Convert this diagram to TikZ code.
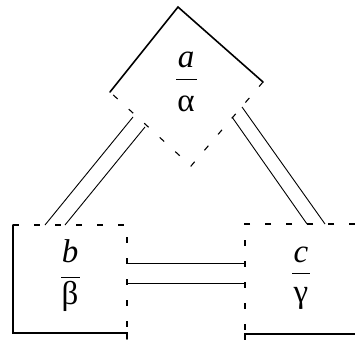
\documentclass[tikz,border=0pt]{standalone}
\usepackage{fontspec}
\setmainfont{Liberation Serif}
\begin{document}
\begin{tikzpicture}[x=1pt,y=-1pt,
  solidln/.style={line width=1.6pt, line cap=round, line join=miter},
  dashln/.style={line width=1.1pt, dash pattern=on 6pt off 15pt},
  link/.style={line width=0.9pt},
  lab/.style={font=\fontsize{33}{36}\selectfont, inner sep=0pt, anchor=base},
  bar/.style={line width=1pt}]
\useasboundingbox (0,0) rectangle (355,339);
% diamond
\coordinate (T) at (178,7);
\coordinate (R) at (263,82);
\coordinate (B) at (191,166);
\coordinate (L) at (110,92);
\draw[solidln] (L) -- (T) -- (R);
\draw[dashln] (R) -- (B) -- (L);
% left box
\coordinate (bTL) at (13,225);
\coordinate (bTR) at (127,225);
\coordinate (bBR) at (127,333);
\coordinate (bBL) at (13,333);
\draw[dashln] (bTL) -- (bTR) -- ([yshift=-6pt]bBR);
\draw[solidln] (bTL) -- (bBL) -- (bBR) -- ([yshift=-6pt]bBR);
% right box
\coordinate (cTR) at (355,224);
\coordinate (cTL) at (245,224);
\coordinate (cBL) at (245,334);
\coordinate (cBR) at (355,334);
\draw[dashln] (cTR) -- (cTL) -- ([yshift=-7pt]cBL);
\draw[solidln] ([yshift=-7pt]cBL) -- (cBL) -- (cBR);
% labels
\node[lab] (an) at (186,68) {\textit{a}};
\node[lab] (ad) at (186,112) {α};
\draw[bar] (176,80) -- (197,80);
\node[lab] (bn) at (70,262) {\textit{b}};
\node[lab] (bd) at (70,304) {β};
\draw[bar] (61,277) -- (80,277);
\node[lab] (cn) at (301,262) {\textit{c}};
\node[lab] (cd) at (301,302) {γ};
\draw[bar] (292,273) -- (310,273);
% connectors
\coordinate (l1a) at (133,117); \coordinate (l1b) at (45,225);
\coordinate (l2a) at (145,127); \coordinate (l2b) at (65,225);
\coordinate (r1a) at (232,117); \coordinate (r1b) at (307,224);
\coordinate (r2a) at (242,107); \coordinate (r2b) at (325,224);
\coordinate (h1a) at (127,263); \coordinate (h1b) at (245,263);
\coordinate (h2a) at (127,283); \coordinate (h2b) at (245,283);
\draw[link] (l1a) -- (l1b);
\draw[link] (l2a) -- (l2b);
\draw[link] (r1a) -- (r1b);
\draw[link] (r2a) -- (r2b);
\draw[link] (h1a) -- (h1b);
\draw[link] (h2a) -- (h2b);
\end{tikzpicture}
\end{document}
